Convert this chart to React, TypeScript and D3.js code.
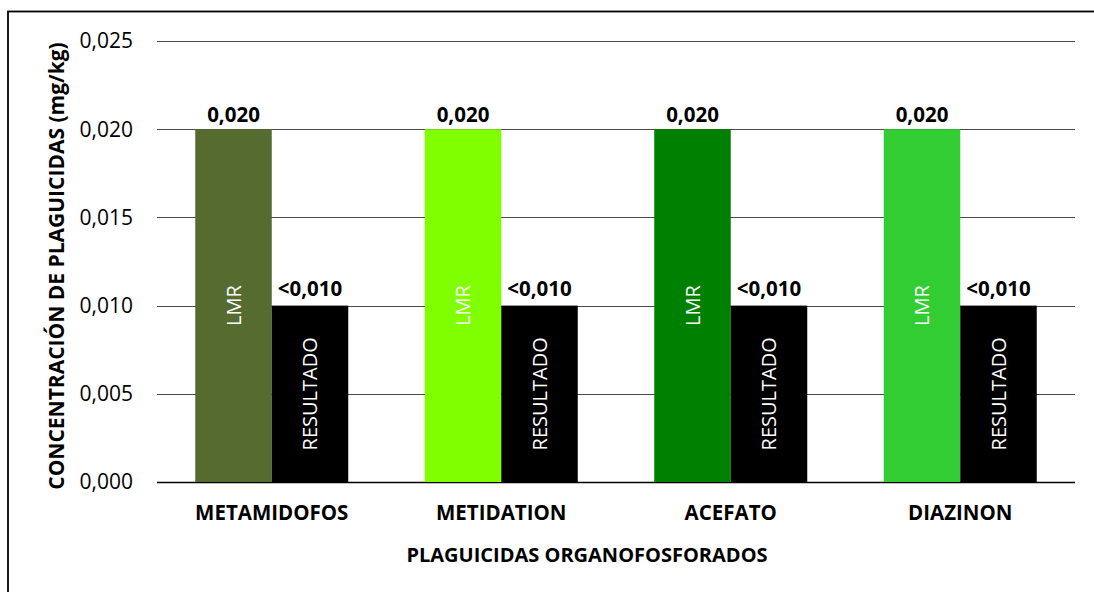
import React from "react";
import * as d3 from "d3";

const categories = ["METAMIDOFOS", "METIDATION", "ACEFATO", "DIAZINON"];
const seriesNames = ["LMR", "RESULTADO"];
const lmrValues = [0.02, 0.02, 0.02, 0.02];
const resultValues = [0.01, 0.01, 0.01, 0.01];
const lmrLabels = ["0,020", "0,020", "0,020", "0,020"];
const resultLabels = ["<0,010", "<0,010", "<0,010", "<0,010"];
const lmrColors = ["#556B2F", "#7FFF00", "#008000", "#32CD32"];
const resultColor = "#000000";
const yTicks = [0, 0.005, 0.01, 0.015, 0.02, 0.025];
const yTickLabels = ["0,000", "0,005", "0,010", "0,015", "0,020", "0,025"];

const W = 1094;
const H = 592;
const FONT = "'Open Sans', sans-serif";

export default function App() {
  const plot = { left: 157, right: 1075, top: 41, bottom: 482 };
  const x0 = d3.scaleBand<string>().domain(categories).range([plot.left, plot.right]).padding(0);
  const x1 = d3
    .scaleBand<string>()
    .domain(seriesNames)
    .range([0, x0.bandwidth()])
    .paddingInner(0)
    .paddingOuter(0.5);
  const y = d3.scaleLinear().domain([0, 0.025]).range([plot.bottom, plot.top]);
  const bw = x1.bandwidth();

  return (
    <svg
      width={W}
      height={H}
      style={{ position: "absolute", left: 0, top: 0, display: "block", background: "#fff" }}
      fontFamily={FONT}
    >
      <rect x={0} y={0} width={W} height={H} fill="#fff" />
      <rect x={8} y={11.5} width={W + 20} height={H + 20} fill="none" stroke="#000" strokeWidth={1.8} />

      {/* gridlines */}
      {yTicks.map((t, i) => (
        <line
          key={"g" + i}
          x1={plot.left}
          x2={plot.right}
          y1={Math.round(y(t)) + 0.5}
          y2={Math.round(y(t)) + 0.5}
          stroke={i === 0 ? "#000" : "#4a4a4a"}
          strokeWidth={i === 0 ? 1.5 : 1.2}
        />
      ))}

      {/* tick labels */}
      {yTicks.map((t, i) => (
        <text
          key={"t" + i}
          x={133}
          y={y(t)}
          dy="0.35em"
          textAnchor="end"
          fontSize={21}
          fill="#000"
        >
          {yTickLabels[i]}
        </text>
      ))}

      {/* bars */}
      {categories.map((c, i) => {
        const gx = x0(c)!;
        const lx = gx + x1("LMR")!;
        const rx = gx + x1("RESULTADO")!;
        const ly = y(lmrValues[i]);
        const ry = y(resultValues[i]);
        return (
          <g key={c}>
            <rect x={lx} y={ly} width={bw} height={y(0) - ly} fill={lmrColors[i]} />
            <rect x={rx} y={ry} width={bw} height={y(0) - ry} fill={resultColor} />
            <text
              x={lx + bw / 2}
              y={ly - 7}
              textAnchor="middle"
              fontSize={20.5}
              fontWeight="bold"
              fill="#000"
            >
              {lmrLabels[i]}
            </text>
            <text
              x={rx + bw / 2}
              y={ry - 10}
              textAnchor="middle"
              fontSize={20.5}
              fontWeight="bold"
              fill="#000"
            >
              {resultLabels[i]}
            </text>
            <text
              transform={`translate(${lx + bw / 2},${(ly + y(0)) / 2}) rotate(-90)`}
              textAnchor="middle"
              dy="0.35em"
              fontSize={20}
              fill="#fff"
            >
              {seriesNames[0]}
            </text>
            <text
              transform={`translate(${rx + bw / 2},${(ry + y(0)) / 2}) rotate(-90)`}
              textAnchor="middle"
              dy="0.35em"
              fontSize={20}
              fill="#fff"
            >
              {seriesNames[1]}
            </text>
            <text
              x={gx + x0.bandwidth() / 2}
              y={520}
              textAnchor="middle"
              fontSize={20.5}
              fontWeight="bold"
              fill="#000"
            >
              {c}
            </text>
          </g>
        );
      })}

      {/* axis titles */}
      <text x={587} y={562} textAnchor="middle" fontSize={20} fontWeight="bold" fill="#000">
        PLAGUICIDAS ORGANOFOSFORADOS
      </text>
      <text
        transform={`translate(64,266) rotate(-90)`}
        textAnchor="middle"
        fontSize={21}
        fontWeight="bold"
        fill="#000"
      >
        CONCENTRACIÓN DE PLAGUICIDAS (mg/kg)
      </text>
    </svg>
  );
}
